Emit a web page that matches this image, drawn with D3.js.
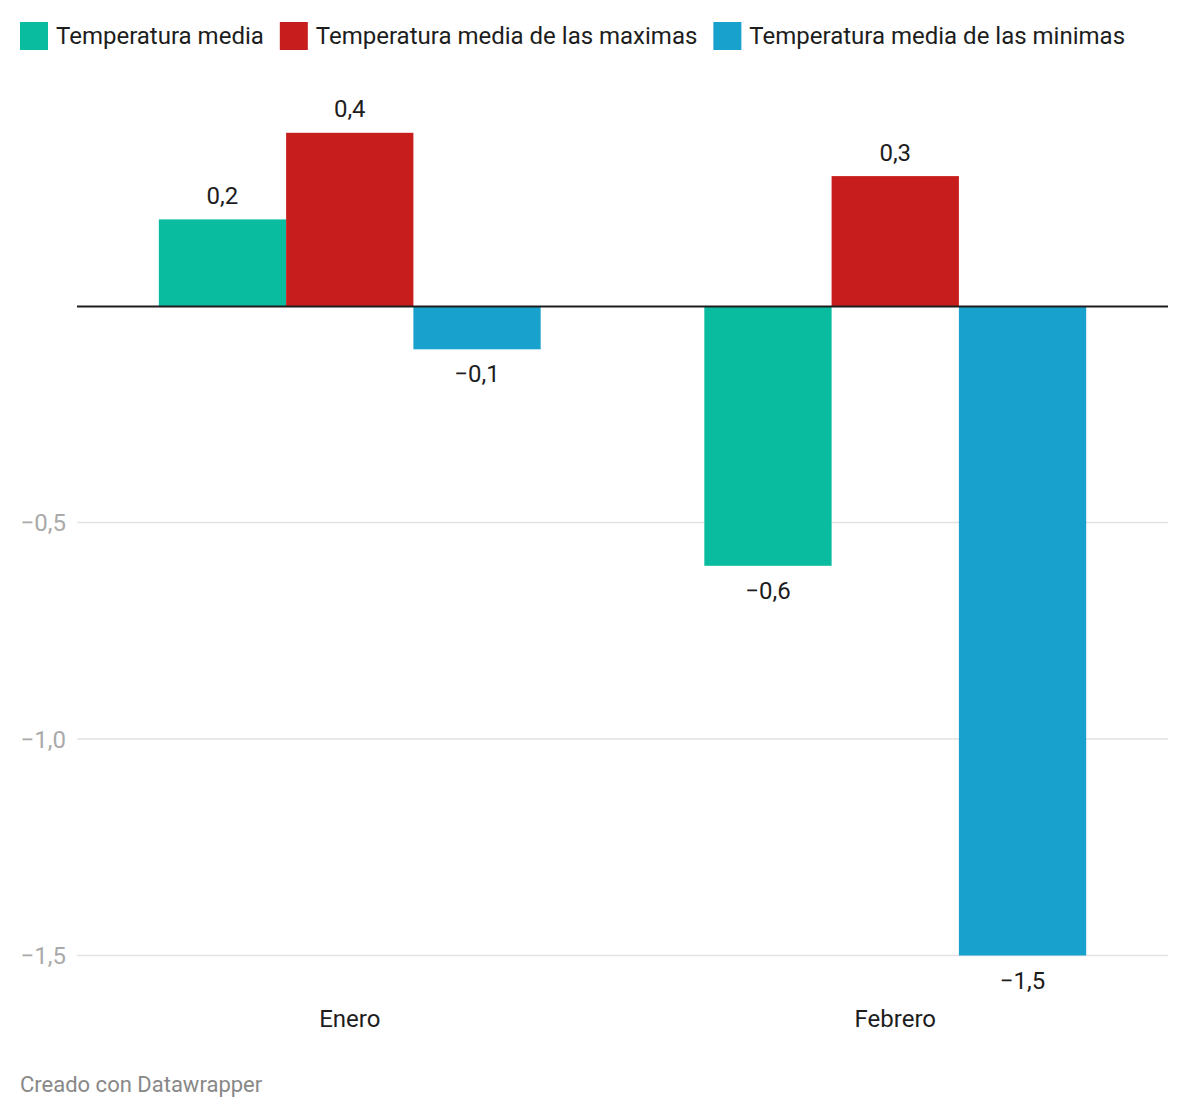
<!DOCTYPE html>
<html>
<head>
<meta charset="utf-8">
<script src="https://cdn.jsdelivr.net/npm/d3@7"></script>
<style>
  body { margin: 0; background: #fff; font-family: Roboto, sans-serif; }
</style>
</head>
<body>
<svg id="chart"></svg>
<script>
// Data
const months = ["Enero", "Febrero"];
const seriesNames = [
  "Temperatura media",
  "Temperatura media de las maximas",
  "Temperatura media de las minimas",
];
const seriesColors = ["#09bb9f", "#c71e1d", "#18a1cd"];
const mediaValues = [0.2, -0.6];
const maximasValues = [0.4, 0.3];
const minimasValues = [-0.1, -1.5];
const yTicks = [-0.5, -1.0, -1.5];
const footerText = "Creado con Datawrapper";

const seriesValues = [mediaValues, maximasValues, minimasValues];

// Dimensions
const W = 1188, H = 1118;
const margin = { top: 0, left: 77, right: 20 };
const plotLeft = margin.left;
const plotRight = W - margin.right;

const svg = d3.select("#chart").attr("width", W).attr("height", H);

// Format numbers with comma decimal and true minus sign
const fmt = (v, digits) => {
  const s = Math.abs(v).toFixed(digits).replace(".", ",");
  return (v < 0 ? "\u2212" : "") + s;
};

// Legend
let lx = 20;
const legend = svg.append("g").attr("class", "legend");
seriesNames.forEach((name, i) => {
  const g = legend.append("g").attr("transform", `translate(${lx},22)`);
  g.append("rect").attr("width", 28).attr("height", 28).attr("fill", seriesColors[i]);
  const t = g.append("text")
    .attr("x", 36)
    .attr("y", 22.3)
    .attr("font-size", "24px")
    .attr("fill", "#1d1d1d")
    .text(name);
  const w = t.node().getComputedTextLength();
  lx += 36 + w + 16;
});

// Scales
const y = d3.scaleLinear().domain([0, 1]).range([306, 306 - 433]);

const x0 = d3.scaleBand()
  .domain(months)
  .range([plotLeft, plotRight])
  .paddingInner(0.3)
  .paddingOuter(0.15);

const x1 = d3.scaleBand()
  .domain(d3.range(seriesNames.length))
  .range([0, x0.bandwidth()]);

// Gridlines and tick labels
const grid = svg.append("g").attr("class", "grid");
grid.selectAll("line")
  .data(yTicks)
  .join("line")
  .attr("x1", plotLeft)
  .attr("x2", plotRight)
  .attr("y1", (d) => y(d))
  .attr("y2", (d) => y(d))
  .attr("stroke", "#e3e3e3")
  .attr("stroke-width", 1.5);

grid.selectAll("text")
  .data(yTicks)
  .join("text")
  .attr("x", 66)
  .attr("y", (d) => y(d) + 8.5)
  .attr("text-anchor", "end")
  .attr("font-size", "24px")
  .attr("fill", "#aaaaaa")
  .text((d) => fmt(d, 1));

// Bars
const groups = svg.append("g")
  .selectAll("g")
  .data(months)
  .join("g")
  .attr("transform", (d) => `translate(${x0(d)},0)`);

groups.selectAll("rect")
  .data((m, mi) => seriesValues.map((vals, si) => ({ si, v: vals[mi] })))
  .join("rect")
  .attr("x", (d) => x1(d.si))
  .attr("width", x1.bandwidth())
  .attr("y", (d) => y(Math.max(0, d.v)))
  .attr("height", (d) => Math.abs(y(d.v) - y(0)))
  .attr("fill", (d) => seriesColors[d.si]);

// Value labels
groups.selectAll("text.value")
  .data((m, mi) => seriesValues.map((vals, si) => ({ si, v: vals[mi] })))
  .join("text")
  .attr("class", "value")
  .attr("x", (d) => x1(d.si) + x1.bandwidth() / 2)
  .attr("y", (d) => (d.v >= 0 ? y(d.v) - 15.5 : y(d.v) + 33))
  .attr("text-anchor", "middle")
  .attr("font-size", "24px")
  .attr("fill", "#1d1d1d")
  .text((d) => fmt(d.v, 1));

// Zero baseline
svg.append("line")
  .attr("x1", plotLeft)
  .attr("x2", plotRight)
  .attr("y1", y(0) + 0.5)
  .attr("y2", y(0) + 0.5)
  .attr("stroke", "#1d1d1d")
  .attr("stroke-width", 2);

// X axis labels
svg.append("g")
  .selectAll("text")
  .data(months)
  .join("text")
  .attr("x", (d) => x0(d) + x0.bandwidth() / 2)
  .attr("y", 1026.5)
  .attr("text-anchor", "middle")
  .attr("font-size", "24px")
  .attr("fill", "#1d1d1d")
  .text((d) => d);

// Footer
svg.append("text")
  .attr("x", 20)
  .attr("y", 1092.3)
  .attr("font-size", "22px")
  .attr("fill", "#888888")
  .text(footerText);
</script>
</body>
</html>
